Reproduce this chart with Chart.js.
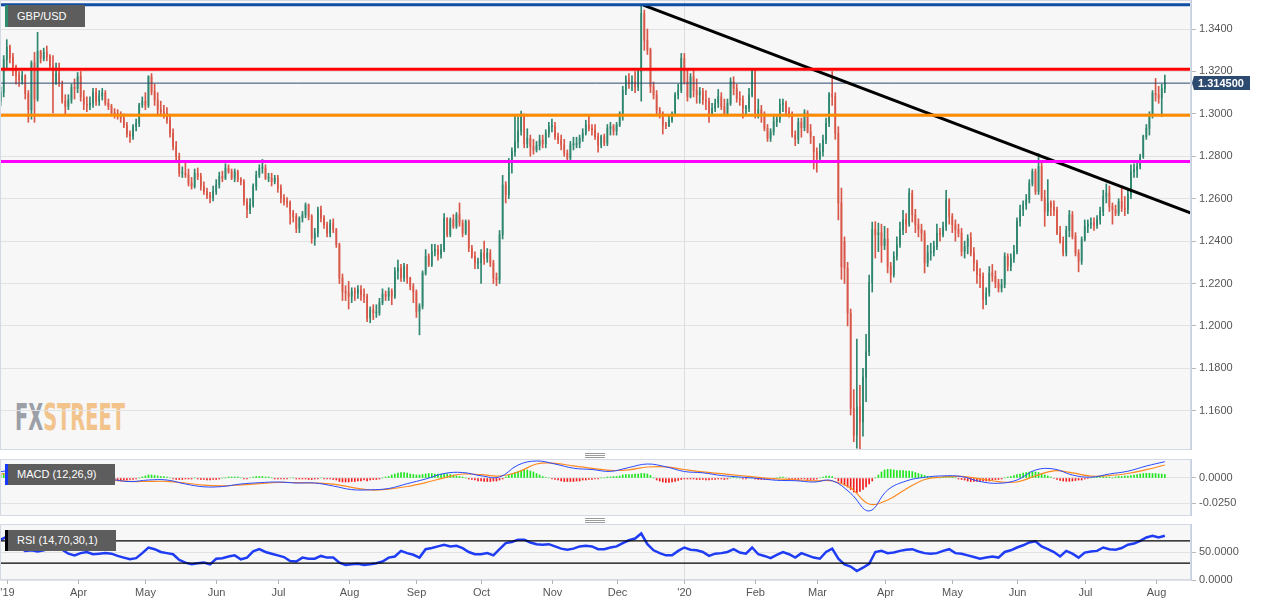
<!DOCTYPE html>
<html lang="en">
<head>
<meta charset="utf-8">
<title>GBP/USD</title>
<script src="https://cdn.jsdelivr.net/npm/chart.js@4.4.1/dist/chart.umd.min.js"></script>
<style>
  html, body { margin: 0; padding: 0; background: #fff; }
  body { position: relative; width: 1268px; height: 606px; overflow: hidden; font-family: 'Liberation Sans', Arial, sans-serif; }
  canvas { position: absolute; left: 0; }
  #main { top: 0; }
  #macd { top: 459px; }
  #rsi { top: 524px; }
  #plotBg { position: absolute; left: 0; top: 0; width: 1191px; height: 450px; background: #f7f7f7; }
  #wm { position: absolute; left: 15px; top: 399px; font: bold 37px 'Liberation Sans Narrow', 'DejaVu Sans Condensed', sans-serif; line-height: 37px; white-space: nowrap; transform-origin: 0 0; }
  #wm .fx { color: #9b9fa7; }
  #wm .st { color: #f2c38b; }
  .tag { position: absolute; z-index: 5; background: #5d5d5d; color: #fff; font-size: 11px; box-sizing: border-box; padding-left: 9px; border-left: 3px solid #000; white-space: nowrap; }
  .grip { position: absolute; left: 585px; width: 20px; height: 1px; background: #9a9a9a; box-shadow: 0 2px 0 #9a9a9a, 0 4px 0 #9a9a9a; }
</style>
</head>
<body>
<div id="plotBg"></div>
<div id="wm"><span class="fx">FX</span><span class="st">STREET</span></div>
<canvas id="main" width="1268" height="450"></canvas>
<canvas id="macd" width="1268" height="57"></canvas>
<canvas id="rsi" width="1268" height="82"></canvas>
<div class="tag" style="left:5px;top:5px;width:80px;height:22px;line-height:22px;border-left-color:#2e8b6e;">GBP/USD</div>
<div class="tag" style="left:5px;top:464px;width:110px;height:21px;line-height:21px;border-left-color:#1638ff;">MACD (12,26,9)</div>
<div class="tag" style="left:5px;top:530px;width:111px;height:21px;line-height:21px;border-left-color:#000;">RSI (14,70,30,1)</div>
<div class="grip" style="top:453px;"></div>
<div class="grip" style="top:518px;"></div>
<script>
// daily candles, 25 Feb 2019 .. 6 Aug 2020 (one value per trading day)
// open = previous close, except where the day gapped
const gapOpens = { 0: 1.3060, 274: 1.2397 };
const closes = [
  1.3100, 1.3255, 1.3315, 1.3265,
  // Mar 19
  1.3222, 1.3183, 1.3160, 1.3180, 1.3095, 1.3020, 1.3240, 1.3070, 1.3295, 1.3262, 1.3290, 1.3270, 1.3225, 1.3140, 1.3190, 1.3145, 1.3060, 1.3035, 1.3066, 1.3125, 1.3120,
  // Apr
  1.3175, 1.3080, 1.3045, 1.3040, 1.3050, 1.3100, 1.3060, 1.3085, 1.3100, 1.3050, 1.3035, 1.3005, 1.3000, 1.2995, 1.2980, 1.2945, 1.2905, 1.2895, 1.2940, 1.2955, 1.3042, 1.3060,
  // May
  1.3040, 1.3175, 1.3105, 1.3066, 1.3020, 1.3010, 1.3003, 1.2971, 1.2909, 1.2846, 1.2799, 1.2720, 1.2720, 1.2713, 1.2674, 1.2658, 1.2720, 1.2705, 1.2658, 1.2634, 1.2615, 1.2605, 1.2634,
  // Jun
  1.2665, 1.2705, 1.2697, 1.2744, 1.2728, 1.2697, 1.2728, 1.2689, 1.2681, 1.2587, 1.2548, 1.2571, 1.2658, 1.2712, 1.2744, 1.2744, 1.2697, 1.2697, 1.2681, 1.2697,
  // Jul
  1.2650, 1.2603, 1.2587, 1.2580, 1.2532, 1.2516, 1.2461, 1.2509, 1.2524, 1.2571, 1.2516, 1.2414, 1.2438, 1.2548, 1.2509, 1.2477, 1.2438, 1.2485, 1.2454, 1.2383, 1.2226, 1.2163, 1.2156,
  // Aug
  1.2140, 1.2163, 1.2156, 1.2171, 1.2148, 1.2140, 1.2038, 1.2077, 1.2061, 1.2061, 1.2110, 1.2150, 1.2140, 1.2163, 1.2140, 1.2258, 1.2273, 1.2226, 1.2281, 1.2226, 1.2187, 1.2160,
  // Sep
  1.2069, 1.2093, 1.2250, 1.2328, 1.2289, 1.2352, 1.2360, 1.2336, 1.2360, 1.2509, 1.2430, 1.2501, 1.2470, 1.2524, 1.2485, 1.2438, 1.2493, 1.2367, 1.2328, 1.2297, 1.2297,
  // Oct
  1.2344, 1.2320, 1.2344, 1.2297, 1.2226, 1.2218, 1.2430, 1.2665, 1.2618, 1.2767, 1.2822, 1.2869, 1.2920, 1.2990, 1.2860, 1.2885, 1.2846, 1.2830, 1.2850, 1.2877, 1.2860, 1.2909, 1.2940,
  // Nov
  1.2940, 1.2893, 1.2878, 1.2854, 1.2815, 1.2791, 1.2854, 1.2854, 1.2860, 1.2885, 1.2909, 1.2948, 1.2932, 1.2924, 1.2893, 1.2854, 1.2893, 1.2862, 1.2932, 1.2940, 1.2920,
  // Dec
  1.2948, 1.3003, 1.3112, 1.3160, 1.3144, 1.3152, 1.3128, 1.3199, 1.3473, 1.3348, 1.3301, 1.3128, 1.3089, 1.3018, 1.3003, 1.2948, 1.2944, 1.2970, 1.3003, 1.3089, 1.3112, 1.3262,
  // Jan 20
  1.3152, 1.3081, 1.3175, 1.3112, 1.3090, 1.3105, 1.3066, 1.3060, 1.3003, 1.3026, 1.3050, 1.3081, 1.3034, 1.3003, 1.3050, 1.3152, 1.3120, 1.3073, 1.3066, 1.3026, 1.3026, 1.3089, 1.3199,
  // Feb
  1.3003, 1.3020, 1.2990, 1.2932, 1.2885, 1.2916, 1.2963, 1.2975, 1.3045, 1.3050, 1.3010, 1.3000, 1.2900, 1.2880, 1.2960, 1.2935, 1.3005, 1.2916, 1.2893, 1.2822,
  // Mar
  1.2790, 1.2822, 1.2877, 1.2956, 1.3095, 1.3081, 1.2909, 1.2580, 1.2279, 1.2273, 1.2061, 1.1612, 1.1485, 1.1619, 1.1548, 1.1759, 1.1878, 1.2204, 1.2455, 1.2430, 1.2440, 1.2379,
  // Apr
  1.2410, 1.2281, 1.2242, 1.2328, 1.2383, 1.2454, 1.2501, 1.2480, 1.2626, 1.2524, 1.2477, 1.2455, 1.2438, 1.2297, 1.2344, 1.2350, 1.2375, 1.2438, 1.2430, 1.2469, 1.2595, 1.2516,
  // May
  1.2477, 1.2454, 1.2438, 1.2352, 1.2375, 1.2414, 1.2344, 1.2297, 1.2242, 1.2235, 1.2125, 1.2156, 1.2250, 1.2235, 1.2203, 1.2179, 1.2195, 1.2328, 1.2281, 1.2320, 1.2350,
  // Jun
  1.2493, 1.2548, 1.2571, 1.2595, 1.2673, 1.2728, 1.2634, 1.2752, 1.2603, 1.2540, 1.2580, 1.2560, 1.2545, 1.2438, 1.2400, 1.2344, 1.2450, 1.2524, 1.2422, 1.2344, 1.2305, 1.2407,
  // Jul
  1.2469, 1.2480, 1.2485, 1.2475, 1.2501, 1.2540, 1.2611, 1.2626, 1.2564, 1.2548, 1.2532, 1.2587, 1.2556, 1.2550, 1.2619, 1.2728, 1.2736, 1.2752, 1.2799, 1.2893, 1.2932, 1.2995, 1.3097,
  // Aug
  1.3089, 1.3075, 1.3120, 1.3145
];
const highs = [
  1.3128, 1.3275, 1.3350, 1.3325,
  1.3285, 1.3230, 1.3200, 1.3200, 1.3185, 1.3110, 1.3250, 1.3290, 1.3385, 1.3300, 1.3310, 1.3320, 1.3280, 1.3275, 1.3240, 1.3240, 1.3155, 1.3090, 1.3090, 1.3140, 1.3165,
  1.3195, 1.3200, 1.3110, 1.3080, 1.3080, 1.3120, 1.3120, 1.3110, 1.3120, 1.3110, 1.3070, 1.3045, 1.3025, 1.3020, 1.3010, 1.3000, 1.2960, 1.2920, 1.2950, 1.2975, 1.3050, 1.3080,
  1.3100, 1.3180, 1.3190, 1.3140, 1.3100, 1.3060, 1.3040, 1.3030, 1.2990, 1.2930, 1.2870, 1.2815, 1.2750, 1.2770, 1.2740, 1.2700, 1.2740, 1.2745, 1.2720, 1.2680, 1.2650, 1.2630, 1.2660,
  1.2690, 1.2725, 1.2730, 1.2765, 1.2760, 1.2740, 1.2740, 1.2735, 1.2700, 1.2690, 1.2600, 1.2600, 1.2670, 1.2730, 1.2760, 1.2785, 1.2760, 1.2720, 1.2720, 1.2710,
  1.2710, 1.2665, 1.2620, 1.2605, 1.2590, 1.2545, 1.2530, 1.2515, 1.2540, 1.2580, 1.2575, 1.2525, 1.2460, 1.2560, 1.2565, 1.2520, 1.2490, 1.2500, 1.2505, 1.2460, 1.2390, 1.2245, 1.2190,
  1.2210, 1.2180, 1.2180, 1.2190, 1.2190, 1.2175, 1.2150, 1.2090, 1.2100, 1.2100, 1.2130, 1.2175, 1.2165, 1.2180, 1.2175, 1.2275, 1.2310, 1.2290, 1.2295, 1.2290, 1.2230, 1.2200,
  1.2170, 1.2105, 1.2260, 1.2360, 1.2340, 1.2385, 1.2385, 1.2380, 1.2385, 1.2530, 1.2510, 1.2510, 1.2525, 1.2535, 1.2580, 1.2500, 1.2500, 1.2500, 1.2380, 1.2350, 1.2320,
  1.2360, 1.2400, 1.2365, 1.2360, 1.2310, 1.2250, 1.2450, 1.2710, 1.2680, 1.2790, 1.2840, 1.2990, 1.2985, 1.3013, 1.3000, 1.2930, 1.2900, 1.2880, 1.2870, 1.2900, 1.2900, 1.2925, 1.2960,
  1.2975, 1.2960, 1.2910, 1.2900, 1.2880, 1.2830, 1.2870, 1.2890, 1.2890, 1.2900, 1.2930, 1.2970, 1.2990, 1.2950, 1.2950, 1.2910, 1.2900, 1.2905, 1.2950, 1.2960, 1.2950,
  1.2960, 1.3010, 1.3130, 1.3180, 1.3190, 1.3180, 1.3200, 1.3215, 1.3514, 1.3490, 1.3400, 1.3310, 1.3150, 1.3110, 1.3030, 1.3010, 1.2960, 1.2990, 1.3010, 1.3100, 1.3140, 1.3285,
  1.3285, 1.3210, 1.3190, 1.3215, 1.3165, 1.3125, 1.3120, 1.3110, 1.3075, 1.3050, 1.3070, 1.3115, 1.3100, 1.3070, 1.3070, 1.3170, 1.3175, 1.3140, 1.3105, 1.3085, 1.3040, 1.3120, 1.3205,
  1.3210, 1.3070, 1.3040, 1.3010, 1.2950, 1.2930, 1.2990, 1.2995, 1.3070, 1.3070, 1.3060, 1.3030, 1.3010, 1.2920, 1.2980, 1.2980, 1.3020, 1.3015, 1.2950, 1.2890,
  1.2840, 1.2860, 1.2900, 1.2980, 1.3100, 1.3200, 1.3100, 1.2940, 1.2650, 1.2420, 1.2300, 1.2080, 1.1700, 1.1938, 1.1720, 1.1800, 1.1960, 1.2240, 1.2490, 1.2492, 1.2485, 1.2480,
  1.2470, 1.2460, 1.2300, 1.2350, 1.2420, 1.2490, 1.2545, 1.2530, 1.2648, 1.2640, 1.2550, 1.2505, 1.2480, 1.2450, 1.2380, 1.2390, 1.2400, 1.2480, 1.2460, 1.2490, 1.2640, 1.2600,
  1.2530, 1.2500, 1.2480, 1.2460, 1.2400, 1.2430, 1.2440, 1.2370, 1.2310, 1.2270, 1.2250, 1.2180, 1.2280, 1.2290, 1.2260, 1.2220, 1.2220, 1.2345, 1.2340, 1.2340, 1.2380,
  1.2510, 1.2570, 1.2590, 1.2620, 1.2690, 1.2740, 1.2740, 1.2813, 1.2770, 1.2640, 1.2690, 1.2590, 1.2590, 1.2560, 1.2470, 1.2420, 1.2470, 1.2545, 1.2540, 1.2440, 1.2360, 1.2420,
  1.2500, 1.2500, 1.2510, 1.2510, 1.2520, 1.2560, 1.2640, 1.2670, 1.2660, 1.2580, 1.2570, 1.2600, 1.2660, 1.2610, 1.2640, 1.2760, 1.2765, 1.2770, 1.2810, 1.2900, 1.2950, 1.3010, 1.3110,
  1.3167, 1.3130, 1.3140, 1.3183
];
const lows = [
  1.3040, 1.3080, 1.3210, 1.3240,
  1.3180, 1.3140, 1.3130, 1.3140, 1.3070, 1.2960, 1.2975, 1.2960, 1.3060, 1.3240, 1.3250, 1.3250, 1.3210, 1.3004, 1.3140, 1.3130, 1.3050, 1.3000, 1.3020, 1.3050, 1.3070,
  1.3100, 1.3060, 1.3020, 1.3010, 1.3020, 1.3030, 1.3040, 1.3040, 1.3065, 1.3040, 1.3020, 1.2990, 1.2980, 1.2975, 1.2960, 1.2935, 1.2890, 1.2865, 1.2880, 1.2920, 1.2940, 1.3030,
  1.3020, 1.3030, 1.3090, 1.3040, 1.3000, 1.2990, 1.2980, 1.2955, 1.2890, 1.2830, 1.2780, 1.2705, 1.2700, 1.2700, 1.2660, 1.2645, 1.2650, 1.2690, 1.2640, 1.2620, 1.2600, 1.2580, 1.2590,
  1.2620, 1.2650, 1.2680, 1.2690, 1.2720, 1.2690, 1.2680, 1.2680, 1.2665, 1.2570, 1.2510, 1.2530, 1.2560, 1.2640, 1.2700, 1.2720, 1.2690, 1.2680, 1.2660, 1.2670,
  1.2630, 1.2580, 1.2570, 1.2560, 1.2480, 1.2490, 1.2440, 1.2440, 1.2490, 1.2510, 1.2500, 1.2390, 1.2380, 1.2420, 1.2490, 1.2460, 1.2420, 1.2420, 1.2440, 1.2370, 1.2200, 1.2120, 1.2120,
  1.2080, 1.2110, 1.2120, 1.2130, 1.2120, 1.2110, 1.2020, 1.2015, 1.2030, 1.2040, 1.2050, 1.2100, 1.2120, 1.2120, 1.2100, 1.2130, 1.2220, 1.2210, 1.2210, 1.2200, 1.2170, 1.2110,
  1.2040, 1.1958, 1.2080, 1.2240, 1.2280, 1.2280, 1.2330, 1.2310, 1.2320, 1.2350, 1.2420, 1.2420, 1.2460, 1.2460, 1.2470, 1.2420, 1.2430, 1.2350, 1.2320, 1.2270, 1.2270,
  1.2200, 1.2290, 1.2300, 1.2280, 1.2200, 1.2190, 1.2200, 1.2410, 1.2580, 1.2600, 1.2720, 1.2800, 1.2840, 1.2900, 1.2840, 1.2840, 1.2800, 1.2810, 1.2820, 1.2830, 1.2840, 1.2840, 1.2890,
  1.2915, 1.2880, 1.2860, 1.2830, 1.2800, 1.2770, 1.2780, 1.2830, 1.2840, 1.2840, 1.2870, 1.2900, 1.2920, 1.2900, 1.2880, 1.2820, 1.2840, 1.2850, 1.2850, 1.2900, 1.2900,
  1.2900, 1.2940, 1.2970, 1.3090, 1.3120, 1.3110, 1.3100, 1.3110, 1.3060, 1.3300, 1.3280, 1.3100, 1.3070, 1.3000, 1.2980, 1.2905, 1.2930, 1.2940, 1.2960, 1.2990, 1.3070, 1.3100,
  1.3140, 1.3060, 1.3075, 1.3080, 1.3050, 1.3050, 1.3045, 1.3020, 1.2960, 1.2990, 1.3010, 1.3030, 1.3020, 1.2990, 1.2990, 1.3040, 1.3090, 1.3055, 1.3040, 1.2980, 1.2990, 1.3010, 1.3080,
  1.2980, 1.2980, 1.2960, 1.2920, 1.2870, 1.2870, 1.2900, 1.2940, 1.2960, 1.3010, 1.2990, 1.2985, 1.2890, 1.2850, 1.2860, 1.2890, 1.2920, 1.2910, 1.2860, 1.2740,
  1.2725, 1.2770, 1.2800, 1.2860, 1.2940, 1.3040, 1.2880, 1.2500, 1.2220, 1.2200, 1.2000, 1.1580, 1.1454, 1.1424, 1.1410, 1.1480, 1.1643, 1.1860, 1.2160, 1.2320, 1.2350, 1.2300,
  1.2360, 1.2250, 1.2205, 1.2230, 1.2310, 1.2370, 1.2430, 1.2440, 1.2470, 1.2490, 1.2440, 1.2420, 1.2400, 1.2250, 1.2280, 1.2310, 1.2330, 1.2360, 1.2400, 1.2420, 1.2450, 1.2480,
  1.2440, 1.2400, 1.2420, 1.2330, 1.2320, 1.2340, 1.2330, 1.2260, 1.2200, 1.2180, 1.2080, 1.2100, 1.2140, 1.2210, 1.2180, 1.2160, 1.2160, 1.2180, 1.2260, 1.2260, 1.2300,
  1.2340, 1.2470, 1.2520, 1.2550, 1.2580, 1.2660, 1.2620, 1.2620, 1.2590, 1.2470, 1.2520, 1.2520, 1.2520, 1.2430, 1.2390, 1.2330, 1.2330, 1.2420, 1.2410, 1.2330, 1.2255, 1.2290,
  1.2400, 1.2440, 1.2460, 1.2450, 1.2460, 1.2480, 1.2520, 1.2580, 1.2540, 1.2480, 1.2520, 1.2520, 1.2540, 1.2520, 1.2530, 1.2600, 1.2700, 1.2700, 1.2740, 1.2790, 1.2880, 1.2900, 1.2980,
  1.3060, 1.3050, 1.2987, 1.3100
];

// MACD histogram, one bar per day, in pips
const macdHistPips = [
  30, 45, 55, 55, 50, 45, 30, 15, 10,
  0, -10, -10, 0, 10, 10, 0, -10, -15, -15, -15,
  -15, -20, -20, -15, -15, -20, -20, -30, -30, -20, -15, -15, -15, -20, -20, -30, -30, -30,
  -30, -30, -20, -20, -15, -15, -10, 0, 10,
  20, 30, 30, 25, 20, 15, 15, 10, 0, -10,
  -15, -15, -15, -10, -10, -10, 0, -10, -15,
  -15, -20, -20, -15, -15, -10, 0, 0, 10, 10,
  10, 10, 0, -10, -10, 0, 10, 15, 15, 15, 10, 10, 0, -10, -10, -10, -10, -10, 0, 0, -10, -10, -10, -10,
  -15, -15, -10, -10, 0, -10, -10, -10, -15, -20,
  -35, -40, -40, -40, -35, -35, -30, -30, -20, -30,
  -20, -15, -15, -10, 0, 10, 15,
  30, 40, 50, 55, 55, 50, 40, 35, 30, 30, 35,
  40, 45, 45, 40, 40, 40, 40, 40, 35, 30, 20,
  15, 10, 0, -10, -15,
  -20, -30, -30, -35, -35, -35, -30, -30, -20, -10,
  10, 25, 40, 55, 65, 75, 80, 80, 70, 60, 45, 30, 15,
  5, 0, -10, -15,
  -20, -30, -35, -35, -35, -35, -30, -30, -20, -20, -15, -15,
  -10, -10, 0, 0, 10, 10, 15,
  15, 20, 30, 35, 35, 35, 40, 40, 45, 45, 40, 25,
  0, -20, -30, -40, -45, -45, -40, -35, -25, -15,
  -10, -10, -10, -10, -15, -15, -15, -20, -20, -15, -15, -10, -10, -15, -10, 0, 10, 0, 0, -10, -10, 0,
  10, -10, -15, -15, -15, -15, -10, -10, 0, 10, 10,
  0, -10, -15, -15, -15, -10, -10, -15, -15, -15,
  -10, 0, 10, 20, 20, 15, -5, -30,
  -50, -70, -90, -115, -140, -147, -135, -115, -90, -60, -30, 0,
  30, 60, 80, 87, 85, 80, 75, 75, 75, 70, 70, 65, 55, 45, 35, 25, 15,
  15, 10, 10, 0, 10, 15, 15, 10, 0, -10, -15,
  -20, -30, -35, -35, -35, -35, -30, -30, -30, -20, -15, -15, -10, 0, 10,
  15, 25, 35, 40, 50, 55, 60, 63, 60, 55, 45, 30, 20, 10,
  -5, -15, -25, -30, -33, -33, -30, -25, -20, -20, -10, -5,
  0, 10, 15, 15, 15, 10, 10, 0, 10, 15, 15, 20,
  20, 25, 30, 35, 40, 45, 47, 47, 45, 45, 40, 40, 35
];
// MACD and signal lines, read every 6th day, in pips
const macdStep = 6;
const macdPips = [
  63, 85, 62, 12, -8, -13, -16, -36, -20, -20,
  -60, -88, -85, -60, -47, -40, -50, -50, -80, -116,
  -118, -105, -57, -10, 45, 55, 22, 10, 130, 170,
  140, 98, 85, 66, 105, 140, 112, 65, 52, 25,
  10, -5, -23, -27, -40, -27, -153, -330, -120, -30,
  7, 21, 15, -35, -53, -20, 80, 90, 30, 8,
  40, 68, 120, 163
];
const signalPips = [
  40, 40, 32, 16, -2, -10, -18, -34, -34, -34,
  -50, -72, -78, -69, -57, -45, -46, -50, -62, -94,
  -120, -111, -85, -46, 2, 40, 33, 20, 60, 140,
  147, 121, 97, 76, 82, 110, 112, 85, 61, 43,
  25, 7, -9, -18, -28, -30, -100, -260, -220, -110,
  -15, 10, 16, -8, -36, -40, 22, 72, 51, 19,
  25, 45, 83, 130
];
// RSI(14), read every 2nd day
const rsiStep = 2;
const rsiValues = [
  72, 77, 63, 59, 52, 53, 51, 53, 56, 56,
  54, 47, 44, 48, 50, 46, 47, 48, 47, 43,
  40, 37, 39, 48, 58, 55, 50, 48, 46, 36,
  31, 28, 30, 31, 28, 38, 39, 42, 44, 37,
  40, 51, 55, 50, 47, 44, 41, 34, 33, 40,
  38, 38, 43, 40, 40, 31, 27, 28, 29, 27,
  28, 30, 33, 40, 42, 52, 48, 45, 40, 55,
  57, 60, 63, 60, 61, 57, 50, 46, 46, 48,
  44, 55, 66, 68, 72, 72, 67, 64, 63, 64,
  60, 56, 54, 56, 60, 61, 60, 55, 55, 58,
  60, 66, 71, 74, 83, 64, 53, 48, 44, 44,
  52, 58, 54, 53, 50, 43, 47, 48, 50, 55,
  49, 47, 58, 46, 43, 39, 45, 50, 46, 40,
  48, 44, 40, 38, 50, 56, 38, 28, 24, 16,
  22, 29, 50, 52, 48, 49, 52, 54, 55, 51,
  48, 47, 48, 52, 55, 48, 47, 44, 41, 38,
  40, 42, 40, 50, 53, 58, 62, 67, 69, 60,
  55, 50, 42, 52, 47, 40, 49, 51, 52, 58,
  55, 54, 57, 63, 65, 70, 76, 79, 76, 79
];

// drawn levels and the falling trend line (day index, price)
const levels = [1.3515, 1.3210, 1.2993, 1.2776];
const trendLine = [[208.7, 1.3513], [386.5, 1.2532]];
const rsiBands = [70, 30];

// axes
const priceTicks = [1.16, 1.18, 1.20, 1.22, 1.24, 1.26, 1.28, 1.30, 1.32, 1.34];
const macdTicks = [-0.025, 0];
const rsiTicks = [0, 50];
const monthTicks = [2, 25, 47, 70, 90, 113, 135, 156, 179, 200, 222, 245, 265, 287, 309, 330, 352, 375];
const monthLabels = ["'19", 'Apr', 'May', 'Jun', 'Jul', 'Aug', 'Sep', 'Oct', 'Nov', 'Dec', "'20", 'Feb', 'Mar', 'Apr', 'May', 'Jun', 'Jul', 'Aug'];

const FONT = "'Liberation Sans', Arial, sans-serif";
const UP = '#2e866e', DOWN = '#d95748';
const X_MIN = -0.2, X_MAX = 386.5;
const levelColors = ['#0f4ea3', '#ff0000', '#ff8c00', '#ff00ff'];

const opens = closes.map((c, i) => i in gapOpens ? gapOpens[i] : closes[i - 1]);
const candleColors = closes.map((c, i) => c >= opens[i] ? UP : DOWN);
const bodies = closes.map((c, i) => ({ x: i, y: [opens[i], c] }));
const wicks = closes.map((c, i) => ({
  x: i,
  y: [Math.min(lows[i], opens[i], c), Math.max(highs[i], opens[i], c)]
}));
const lastClose = closes[closes.length - 1];
const yearTick = monthTicks[monthLabels.indexOf("'20")];

const xAxis = () => ({ type: 'linear', min: X_MIN, max: X_MAX, offset: false, display: false });

function rightAxis(min, max, ticks) {
  return {
    position: 'right', min, max, beginAtZero: false,
    afterBuildTicks: s => { s.ticks = ticks.map(v => ({ value: v })); },
    afterFit: s => { s.width = 77; s.paddingTop = 0; s.paddingBottom = 0; },
    grid: { color: '#e2e2e2', tickColor: '#b8b8b8', tickLength: 5 },
    border: { color: '#c6cfdd' },
    ticks: { color: '#555', padding: 3, font: { family: FONT, size: 11 }, callback: v => Number(v).toFixed(4) }
  };
}

const hline = (y, color, width) => ({
  type: 'line', data: [{ x: X_MIN - 5, y }, { x: X_MAX + 5, y }],
  borderColor: color, borderWidth: width, pointRadius: 0, clip: 0, order: 0
});

function frame(fill) {
  return {
    id: 'frame',
    beforeDraw(chart) {
      if (!fill) return;
      const { ctx, chartArea: a } = chart;
      ctx.save();
      ctx.fillStyle = fill;
      ctx.fillRect(a.left, a.top, a.right - a.left, a.bottom - a.top);
      ctx.restore();
    },
    beforeDatasetsDraw(chart) {
      const { ctx, chartArea: a, scales } = chart;
      const x = Math.round(scales.x.getPixelForValue(yearTick)) + 0.5;
      ctx.save();
      ctx.strokeStyle = '#dedede';
      ctx.lineWidth = 1;
      ctx.beginPath();
      ctx.moveTo(x, a.top);
      ctx.lineTo(x, a.bottom);
      ctx.stroke();
      ctx.restore();
    },
    afterDraw(chart) {
      const { ctx, chartArea: a } = chart;
      ctx.save();
      ctx.strokeStyle = '#d3dae6';
      ctx.lineWidth = 1;
      ctx.strokeRect(a.left + 0.5, a.top + 0.5, a.right - a.left - 1, a.bottom - a.top - 1);
      ctx.restore();
    }
  };
}

const priceTag = {
  id: 'priceTag',
  afterDraw(chart) {
    const { ctx, chartArea: a, scales: { y } } = chart;
    const py = Math.round(y.getPixelForValue(lastClose));
    const x0 = a.right + 3;
    ctx.save();
    ctx.fillStyle = '#2d4a70';
    ctx.beginPath();
    ctx.moveTo(a.right + 1, py);
    ctx.lineTo(x0, py - 7);
    ctx.lineTo(x0 + 56, py - 7);
    ctx.lineTo(x0 + 56, py + 7);
    ctx.lineTo(x0, py + 7);
    ctx.closePath();
    ctx.fill();
    ctx.fillStyle = '#fff';
    ctx.font = 'bold 11px ' + FONT;
    ctx.textBaseline = 'middle';
    ctx.fillText(lastClose.toFixed(6), x0 + 4, py + 0.5);
    ctx.restore();
  }
};

const monthAxis = {
  id: 'monthAxis',
  afterDraw(chart) {
    const { ctx, chartArea: a, scales: { x } } = chart;
    ctx.save();
    ctx.font = '11px ' + FONT;
    ctx.fillStyle = '#555';
    ctx.textAlign = 'center';
    ctx.textBaseline = 'middle';
    ctx.strokeStyle = '#b5b5b5';
    monthTicks.forEach((t, k) => {
      const px = Math.round(x.getPixelForValue(t)) + 0.5;
      ctx.beginPath();
      ctx.moveTo(px, a.bottom);
      ctx.lineTo(px, a.bottom + 4);
      ctx.stroke();
      ctx.fillText(monthLabels[k], px, a.bottom + 13);
    });
    ctx.restore();
  }
};

const base = {
  responsive: false, animation: false, events: [],
  plugins: { legend: { display: false }, tooltip: { enabled: false } }
};

// price pane
new Chart(document.getElementById('main'), {
  type: 'bar',
  data: {
    datasets: [
      ...levels.map((v, k) => hline(v, levelColors[k], 3)),
      { type: 'line', data: trendLine.map(p => ({ x: p[0], y: p[1] })), borderColor: '#000', borderWidth: 3, pointRadius: 0, clip: 0, order: 0 },
      hline(lastClose, '#2c4a72', 1),
      { data: bodies, backgroundColor: candleColors, barThickness: 1, maxBarThickness: 2.8, minBarLength: 1, grouped: false, order: 1 },
      { data: wicks, backgroundColor: candleColors, barThickness: 1, maxBarThickness: 1, grouped: false, order: 2 }
    ]
  },
  options: {
    ...base,
    layout: { padding: 0 },
    scales: { x: xAxis(), y: rightAxis(1.1415, 1.3537, priceTicks) }
  },
  plugins: [frame(null), priceTag]
});

// MACD pane
new Chart(document.getElementById('macd'), {
  type: 'bar',
  data: {
    datasets: [
      { type: 'line', data: macdPips.map((v, k) => ({ x: k * macdStep, y: v / 10000 })), borderColor: '#2a4bff', borderWidth: 1, pointRadius: 0, tension: 0.4, order: 0 },
      { type: 'line', data: signalPips.map((v, k) => ({ x: k * macdStep, y: v / 10000 })), borderColor: '#ff8a1f', borderWidth: 1.2, pointRadius: 0, tension: 0.4, order: 0 },
      { data: macdHistPips.map((v, i) => ({ x: i, y: v / 10000 })), backgroundColor: macdHistPips.map(v => v >= 0 ? '#1ee61e' : '#f21d1d'), barThickness: 1, maxBarThickness: 3, grouped: false, order: 1 }
    ]
  },
  options: {
    ...base,
    layout: { padding: 0 },
    scales: { x: xAxis(), y: rightAxis(-0.038, 0.019, macdTicks) }
  },
  plugins: [frame('#f7f7f7')]
});

// RSI pane
new Chart(document.getElementById('rsi'), {
  type: 'line',
  data: {
    datasets: [
      ...rsiBands.map(v => hline(v, '#000', 1.3)),
      { data: rsiValues.map((v, k) => ({ x: k * rsiStep, y: v })), borderColor: '#1f3cf5', borderWidth: 2.5, pointRadius: 0, tension: 0, order: 1 }
    ]
  },
  options: {
    ...base,
    layout: { padding: { top: 0, bottom: 26, left: 0, right: 0 } },
    scales: { x: xAxis(), y: rightAxis(0, 100, rsiTicks) }
  },
  plugins: [frame('#f7f7f7'), monthAxis]
});

// fit the watermark to its width in the original
const wm = document.getElementById('wm');
wm.style.transform = 'scaleX(' + (110 / wm.offsetWidth) + ')';
</script>
</body>
</html>
